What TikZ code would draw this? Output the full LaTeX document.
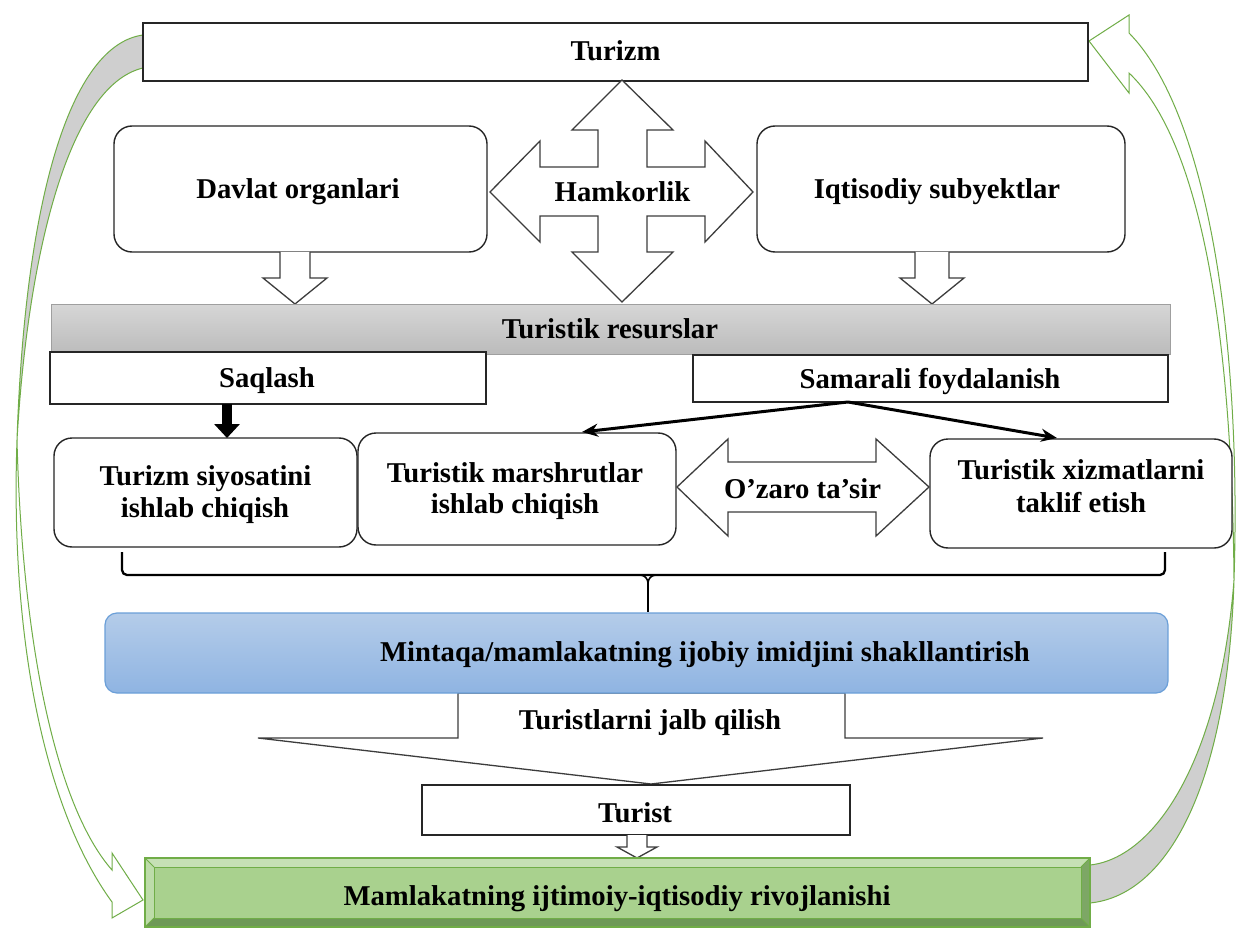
\documentclass[tikz,border=0pt]{standalone}
\usepackage{fontspec}
\setmainfont{Liberation Serif}
\usetikzlibrary{arrows.meta,calc}
\definecolor{lnc}{HTML}{262626}
\definecolor{grn}{HTML}{70AD47}
\definecolor{gband}{HTML}{CFCFCF}
\definecolor{bartop}{HTML}{D6D6D6}
\definecolor{barbot}{HTML}{BBBBBB}
\definecolor{bluetop}{HTML}{B4CCE9}
\definecolor{bluebot}{HTML}{8FB4E2}
\definecolor{blueln}{HTML}{6B9FD8}
\definecolor{gfill}{HTML}{A9D18E}
\definecolor{glight}{HTML}{C6E0B5}
\definecolor{gdark}{HTML}{6E9957}
\begin{document}
\begin{tikzpicture}[x=1pt,y=-1pt,
  font=\bfseries\fontsize{28.7}{32}\selectfont,
  box/.style={draw=lnc, line width=1.4pt, fill=white, inner sep=0pt, outer sep=0pt},
  rbox/.style={box, rounded corners=18pt},
  txt/.style={inner sep=0pt, anchor=base, text=black},
  hollow/.style={draw=lnc!90, line width=1.3pt, fill=white, line join=miter},
  cband/.style={draw=grn, line width=1pt},
  brace/.style={draw=black, line width=2.3pt, rounded corners=5pt},
  thinarrow/.style={draw=black, line width=3pt, -{Stealth[length=16pt,width=13pt]}}]
\useasboundingbox (0,0) rectangle (1237,928);
\fill[white] (0,0) rectangle (1237,928);

% ---- curved feedback arrows ----
\path[cband, fill=gband] (143,35) .. controls (70,45) and (25,200) .. (17,440)
   .. controls (28,250) and (70,85) .. (143,68) -- cycle;
\path[cband, fill=white] (17,440) .. controls (10,640) and (45,810) .. (112,902)
   -- (112,918) -- (143,900) -- (112,853) -- (112,870)
   .. controls (55,805) and (22,640) .. (17,440) -- cycle;
\path[cband, fill=gband] (1090,903) .. controls (1170,895) and (1228,780) .. (1234,580)
   .. controls (1220,760) and (1155,858) .. (1090,865) -- cycle;
\path[cband, fill=white] (1234,580) .. controls (1242,330) and (1205,110) .. (1129,33)
   -- (1129,15) -- (1089,41) -- (1129,93) -- (1129,73)
   .. controls (1200,140) and (1232,330) .. (1234,580) -- cycle;

% ---- boxes ----
\node[box, minimum width=945, minimum height=58] (turizm) at (615.5,52) {};
\node[rbox, minimum width=373, minimum height=126] (davlat) at (300.5,189) {};
\node[rbox, minimum width=368, minimum height=126] (iqtisod) at (941,189) {};

% four-way arrow
\draw[hollow] (622,80) -- (673,130) -- (647,130) -- (647,167) -- (705,167) -- (705,141)
  -- (753,192) -- (705,242) -- (705,216) -- (647,216) -- (647,252) -- (673,252)
  -- (622,302) -- (572,252) -- (598,252) -- (598,216) -- (540,216) -- (540,242)
  -- (490,192) -- (540,141) -- (540,167) -- (598,167) -- (598,130) -- (572,130) -- cycle;

% small hollow arrows down
\draw[hollow, shift={($(davlat.south)+(-5.5,0)$)}] (-15,0) -- (-15,26) -- (-32,26) -- (0,52) -- (32,26) -- (15,26) -- (15,0);
\draw[hollow, shift={($(iqtisod.south)+(-9,0)$)}] (-17,0) -- (-17,26) -- (-32,26) -- (0,52) -- (32,26) -- (17,26) -- (17,0);

\node[draw=gray!75, line width=0.8pt, top color=bartop, bottom color=barbot,
      minimum width=1119, minimum height=50, inner sep=0pt] (resurs) at (610.5,329.5) {};
\node[box, minimum width=436, minimum height=52] (saqlash) at (268,378) {};
\node[box, minimum width=475, minimum height=47] (samarali) at (930.5,378.5) {};

\node[rbox, minimum width=303, minimum height=109] (siyosat) at (205.5,492.5) {};
\node[rbox, minimum width=318, minimum height=112] (marshrut) at (517,489) {};
\node[rbox, minimum width=302, minimum height=109] (xizmat) at (1081,493.5) {};

% double arrow
\draw[hollow] (677,487) -- (728,439) -- (728,462) -- (876,462) -- (876,439) -- (929,487)
  -- (876,536) -- (876,512) -- (728,512) -- (728,536) -- cycle;

% arrows from Saqlash / Samarali
\draw[line width=10pt, -{Triangle[length=14pt,width=25pt]}] ([xshift=-41pt]saqlash.south) -- ([xshift=21.5pt]siyosat.north);
\coordinate (sf) at ([xshift=-82.5pt]samarali.south);
\draw[thinarrow] (sf) -- ([xshift=65pt,yshift=1pt]marshrut.north);
\draw[thinarrow] (sf) -- ([xshift=-24pt,yshift=1pt]xizmat.north);

% funnel (Turistlarni jalb qilish)
\draw[hollow] (458,693) -- (845,693) -- (845,738) -- (1043,738) -- (651,784) -- (258,738) -- (458,738) -- cycle;

% blue box
\node[draw=blueln, line width=1.2pt, rounded corners=12pt, top color=bluetop, bottom color=bluebot,
      minimum width=1063, minimum height=80, inner sep=0pt] (mintaqa) at (636.5,653) {};

% brace
\coordinate (bL) at (122,552);
\coordinate (bR) at (1165,552);
\coordinate (bM) at (648,575);
\draw[brace] (bL) |- (bM) -| (bR);
\draw[line width=2.3pt] ($(bM)+(0,6)$) -- (mintaqa.north -| bM);
\draw[line width=1.6pt] ($(bM)+(-8,0)$) to[out=0,in=90] ($(bM)+(0,8)$) to[out=90,in=180] ($(bM)+(8,0)$);

% Turist box and arrow
\node[box, minimum width=428, minimum height=50] (turist) at (636,810) {};
\draw[hollow, shift={($(turist.south)+(1,0)$)}] (-10,0) -- (-10,12) -- (-20,12) -- (0,23) -- (20,12) -- (10,12) -- (10,0);

% green bevel box
\node[fill=gfill, draw=grn, line width=1.2pt, minimum width=945, minimum height=69, inner sep=0pt] (mamlakat) at (617.5,892.5) {};
\fill[glight] (145,858) -- (1090,858) -- (1081,867) -- (154,867) -- cycle;
\fill[glight!70!gfill] (145,858) -- (154,867) -- (154,918) -- (145,927) -- cycle;
\fill[gdark!75!gfill] (1090,858) -- (1090,927) -- (1081,918) -- (1081,867) -- cycle;
\fill[gdark] (145,927) -- (154,918) -- (1081,918) -- (1090,927) -- cycle;
\draw[grn, line width=1.2pt] (145,858) rectangle (1090,927);
\draw[grn, line width=0.8pt] (154,867) rectangle (1081,918);
\draw[grn, line width=0.8pt] (145,858) -- (154,867) (1090,858) -- (1081,867) (145,927) -- (154,918) (1090,927) -- (1081,918);

% ---- texts ----
\node[txt] (t1) at (615.5,61) {Turizm};
\node[txt] (t2) at (298,199) {Davlat organlari};
\node[txt] (t3) at (622.5,202) {Hamkorlik};
\node[txt] (t4) at (937,199) {Iqtisodiy subyektlar};
\node[txt] (t5) at (610,338) {Turistik resurslar};
\node[txt] (t6) at (267,387) {Saqlash};
\node[txt] (t7) at (930,388) {Samarali foydalanish};
\node[txt] (t8a) at (205.5,485) {Turizm siyosatini};
\node[txt] (t8b) at (205,517) {ishlab chiqish};
\node[txt] (t9a) at (515,482) {Turistik marshrutlar};
\node[txt] (t9b) at (515,513) {ishlab chiqish};
\node[txt] (t10) at (802.5,498) {O’zaro ta’sir};
\node[txt] (t11a) at (1081,479) {Turistik xizmatlarni};
\node[txt] (t11b) at (1081,512) {taklif etish};
\node[txt] (t12) at (705,661) {Mintaqa/mamlakatning ijobiy imidjini shakllantirish};
\node[txt] (t13) at (650,729) {Turistlarni jalb qilish};
\node[txt] (t14) at (635,822) {Turist};
\node[txt] (t15) at (617,905) {Mamlakatning ijtimoiy-iqtisodiy rivojlanishi};
\end{tikzpicture}
\end{document}
